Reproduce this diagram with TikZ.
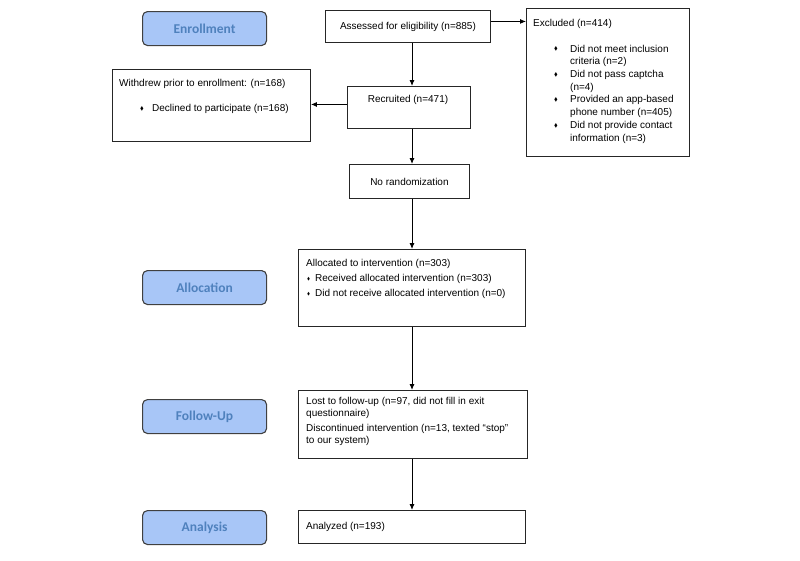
\documentclass[tikz,border=0pt]{standalone}
\usepackage{fontspec}
\usepackage{amssymb}
\setmainfont{Liberation Sans}
\newfontfamily\stagefont{Carlito}
\usetikzlibrary{arrows.meta,positioning,calc}
\definecolor{stagefill}{HTML}{A8C6F7}
\definecolor{stagetext}{HTML}{4F81BD}
\newcommand{\dmd}{\raisebox{0.12em}{\scalebox{0.55}{$\blacklozenge$}}}
\newcommand{\sdmd}{\raisebox{0.12em}{\scalebox{0.45}{$\blacklozenge$}}}
\newcommand{\bul}{\hspace*{21pt}\makebox[16pt][l]{\dmd}}
\newcommand{\cont}{\hspace*{37pt}}

\begin{document}
\begin{tikzpicture}[x=1pt, y=-1pt,
    stage/.style={draw=black!75, line width=1.1pt, rounded corners=5pt, fill=stagefill, text=stagetext,
      font=\stagefont\bfseries\fontsize{13.5}{16}\selectfont, minimum width=124pt, minimum height=34pt,
      anchor=north west, inner sep=0pt},
    box/.style={draw=black!85, line width=0.9pt, anchor=north west, inner sep=0pt,
      font=\fontsize{10}{12}\selectfont},
    txt/.style={inner sep=0pt, align=left, font=\fontsize{10}{12.7}\selectfont},
    arr/.style={-{Latex[length=6pt,width=5pt]}, line width=0.9pt}]
    \useasboundingbox (0,0) rectangle (800,560);
    \coordinate (spine) at (412,0);

    % stages
    \node[stage] (enrol) at (142,11) {Enrollment};
    \node[stage] (alloclab) at (142,270) {Allocation};
    \node[stage] (follab) at (142,399) {Follow-Up};
    \node[stage] (analab) at (142,510) {Analysis};

    % enrollment
    \node[box, minimum width=165pt, minimum height=32pt] (assess) at (325,10) {Assessed for eligibility (n=885)};
    \node[box, minimum width=163pt, minimum height=148pt] (excl) at (526,8) {};
    \node[txt, anchor=north west] (excl-t) at (533,19) {Excluded (n=414)\\[13pt]
      \bul Did not meet inclusion\\
      \cont criteria (n=2)\\
      \bul Did not pass captcha\\
      \cont (n=4)\\
      \bul Provided an app-based\\
      \cont phone number (n=405)\\
      \bul Did not provide contact\\
      \cont information (n=3)};
    \node[box, minimum width=123pt, minimum height=42pt] (recr) at (347,86) {};
    \node[txt] (recr-t) at (408,100) {Recruited (n=471)};
    \node[box, minimum width=198pt, minimum height=72pt] (withdr) at (112,69) {};
    \node[txt, anchor=north west] (withdr-t) at (119,79) {Withdrew prior to enrollment: (n=168)\\[12.3pt]
      \hspace*{21pt}\makebox[12pt][l]{\dmd}Declined to participate (n=168)};
    \node[box, minimum width=120pt, minimum height=34pt] (norand) at (349,164) {No randomization};

    % allocation
    \node[box, minimum width=227pt, minimum height=77pt] (alloc) at (298,249) {};
    \node[txt, anchor=north west, font=\fontsize{10}{15}\selectfont] (alloc-t) at (306,259) {Allocated to intervention (n=303)\\
      \makebox[9pt][l]{\hspace{1pt}\sdmd}Received allocated intervention (n=303)\\
      \makebox[9pt][l]{\hspace{1pt}\sdmd}Did not receive allocated intervention (n=0)};

    % follow-up
    \node[box, minimum width=229pt, minimum height=68pt] (lost) at (298,390) {};
    \node[txt, anchor=north west, font=\fontsize{10}{12.3}\selectfont] (lost-t) at (306,397) {Lost to follow-up (n=97, did not fill in exit\\
      questionnaire)\\[2.5pt]
      Discontinued intervention (n=13, texted “stop”\\
      to our system)};

    % analysis
    \node[box, minimum width=227pt, minimum height=33pt] (anal) at (298,510) {};
    \node[txt, anchor=west] (anal-t) at (306,527) {Analyzed (n=193)};

    \draw[arr] ([yshift=5pt]assess.east) -- ([yshift=5pt]assess.east -| excl.west);
    \draw[arr] (assess.south -| spine) -- (recr.north -| spine);
    \draw[arr] ([yshift=3pt]recr.west) -- ([yshift=3pt]recr.west -| withdr.east);
    \draw[arr] (recr.south -| spine) -- (norand.north -| spine);
    \draw[arr] (norand.south -| spine) -- (alloc.north -| spine);
    \draw[arr] (alloc.south -| spine) -- (lost.north -| spine);
    \draw[arr] (lost.south -| spine) -- (anal.north -| spine);
\end{tikzpicture}
\end{document}
